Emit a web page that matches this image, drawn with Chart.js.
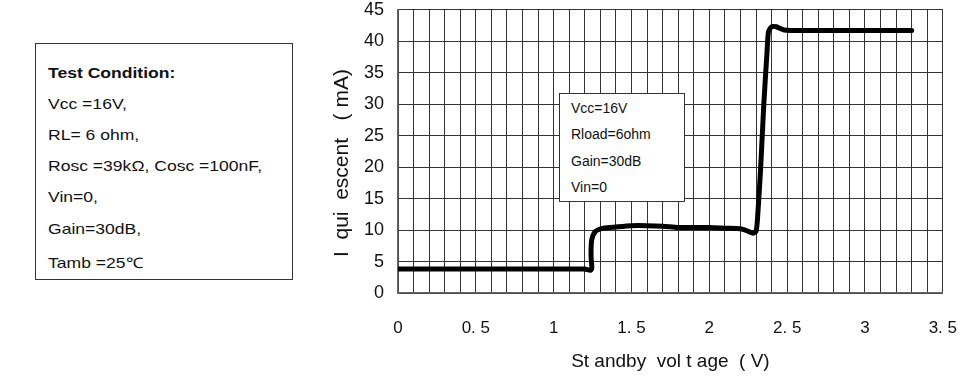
<!DOCTYPE html>
<html>
<head>
<meta charset="utf-8">
<script src="https://cdn.jsdelivr.net/npm/chart.js@4/dist/chart.umd.min.js"></script>
<style>
  body { margin: 0; background: #fff; font-family: "Liberation Sans", Arial, sans-serif; overflow: hidden; }
  #wrap { position: relative; width: 968px; height: 383px; overflow: hidden; }
  #chartBox { position: absolute; left: 320px; top: -15px; width: 662px; height: 398px; }
  .box { position: absolute; background: #fff; border: 1px solid #333; color: #111; }
  #cond { left: 35px; top: 43px; width: 256px; height: 235px; font-size: 14.5px; }
  #cond div { position: absolute; left: 12px; white-space: nowrap; transform: scaleX(1.21); transform-origin: left center; }
  #inner { left: 559px; top: 93px; width: 124px; height: 107px; font-size: 14px; }
  #inner div { position: absolute; left: 11px; white-space: nowrap; }
</style>
</head>
<body>
<div id="wrap">
  <div class="box" id="cond"></div>
  <div id="chartBox"><canvas id="myChart" width="662" height="398"></canvas></div>
  <div class="box" id="inner"></div>
</div>
<script>
// the measured curve (standby voltage in V, quiescent current in mA)
const voltage = [0, 0.5, 1, 1.2, 1.235, 1.245, 1.24, 1.245, 1.27, 1.32, 1.4, 1.5, 1.6, 1.7, 1.8, 1.9, 2.0, 2.1, 2.2, 2.25, 2.28, 2.3, 2.31, 2.33, 2.35, 2.37, 2.38, 2.40, 2.43, 2.48, 2.6, 3.0, 3.3]
const current = [3.8, 3.8, 3.8, 3.8, 3.6, 3.9, 6, 8.5, 9.8, 10.3, 10.5, 10.7, 10.7, 10.6, 10.4, 10.4, 10.4, 10.3, 10.2, 9.8, 9.5, 9.8, 12, 20, 30, 38, 41.5, 42.3, 42.3, 41.8, 41.7, 41.7, 41.7]
// x labels every 0.5 V (as printed in the datasheet)
const xTickLabels = ['0', '0. 5', '1', '1. 5', '2', '2. 5', '3', '3. 5']
// text boxes
const conditionLines = ['Test Condition:', 'Vcc =16V,', 'RL= 6 ohm,', 'Rosc =39k\u03A9, Cosc =100nF,', 'Vin=0,', 'Gain=30dB,', 'Tamb =25\u2103']
const innerLines = ['Vcc=16V', 'Rload=6ohm', 'Gain=30dB', 'Vin=0']

// fill the text boxes
const cond = document.getElementById('cond')
conditionLines.forEach((t, i) => {
    const d = document.createElement('div')
    d.textContent = t
    d.style.top = (20.5 + i * 31.2) + 'px'
    if (i === 0) d.style.fontWeight = 'bold'
    cond.appendChild(d)
})
const inner = document.getElementById('inner')
innerLines.forEach((t, i) => {
    const d = document.createElement('div')
    d.textContent = t
    d.style.top = (6 + i * 26.3) + 'px'
    inner.appendChild(d)
})

const points = voltage.map((v, i) => ({x: v, y: current[i]}))
const font = '"Liberation Sans", Arial, sans-serif'

new Chart(document.getElementById('myChart'), {
    type: 'scatter',
    data: {
        datasets: [{
            data: points,
            showLine: true,
            borderColor: '#000',
            borderWidth: 5,
            pointRadius: 0,
            tension: 0.25,
            borderCapStyle: 'round',
            borderJoinStyle: 'round'
        }]
    },
    options: {
        responsive: false,
        animation: false,
        maintainAspectRatio: false,
        layout: { padding: 0 },
        plugins: { legend: { display: false }, tooltip: { enabled: false } },
        scales: {
            x: {
                type: 'linear',
                min: 0,
                max: 3.5,
                afterFit: (s) => { s.height = 90 },
                grid: { color: '#333', lineWidth: 1, drawTicks: false },
                border: { color: '#666', width: 1.5 },
                ticks: {
                    stepSize: 0.1,
                    autoSkip: false,
                    maxRotation: 0,
                    padding: 25,
                    color: '#111',
                    font: { family: font, size: 17 },
                    callback: (v) => {
                        const k = Math.round(v * 10)
                        return k % 5 === 0 ? xTickLabels[k / 5] : ''
                    }
                },
                title: {
                    display: true,
                    text: 'St andby  vol t age  ( V)',
                    color: '#111',
                    font: { family: font, size: 19 },
                    padding: { top: 4, bottom: 10 }
                }
            },
            y: {
                min: 0,
                max: 45,
                afterFit: (s) => { s.width = 78 },
                grid: { color: '#333', lineWidth: 1, drawTicks: false },
                border: { color: '#666', width: 1.5 },
                ticks: {
                    stepSize: 5,
                    padding: 14,
                    color: '#111',
                    font: { family: font, size: 18 }
                },
                title: {
                    display: true,
                    text: 'I  qui  escent   ( mA)    ',
                    color: '#111',
                    font: { family: font, size: 21 },
                    padding: { top: 10, bottom: 0 }
                }
            }
        }
    }
})
</script>
</body>
</html>
